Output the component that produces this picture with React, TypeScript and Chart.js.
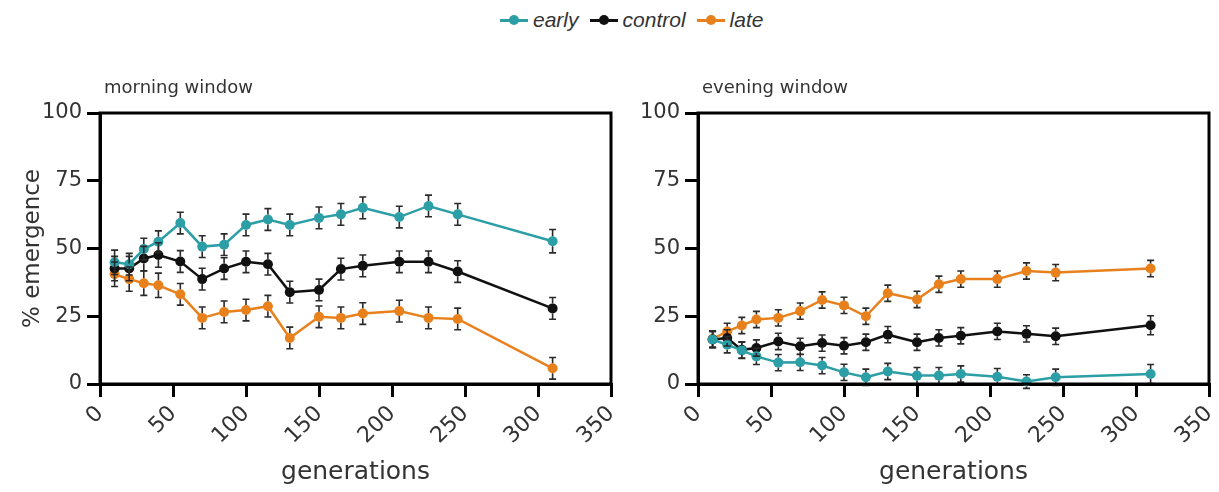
import React, { useEffect, useRef } from 'react';
import { Chart, registerables } from 'chart.js';
Chart.register(...registerables);

const generations = [10, 20, 30, 40, 55, 70, 85, 100, 115, 130, 150, 165, 180, 205, 225, 245, 310];
const xTicks = [0, 50, 100, 150, 200, 250, 300, 350];
const yTicks = [0, 25, 50, 75, 100];

const morningEarly = [44.9, 44.2, 49.8, 52.5, 59.4, 50.7, 51.4, 58.7, 60.7, 58.7, 61.3, 62.6, 65.0, 61.6, 65.7, 62.6, 52.7];
const morningControl = [42.6, 42.6, 46.3, 47.6, 45.2, 38.7, 42.6, 45.1, 44.2, 33.9, 34.7, 42.4, 43.6, 45.1, 45.1, 41.5, 27.9];
const morningLate = [40.5, 38.7, 37.2, 36.4, 33.1, 24.4, 26.6, 27.3, 28.7, 17.0, 24.8, 24.4, 26.0, 26.9, 24.4, 24.0, 5.8];
const morningEarlyErr = [4.5, 4, 4, 4, 4, 4, 4, 4, 4, 4, 4, 4, 4, 4, 4, 4, 4.3];
const morningControlErr = [4.5, 4.5, 4.5, 4.5, 4, 4, 4, 4, 4, 4, 4, 4, 4, 4, 4, 4, 4];
const morningLateErr = [4.5, 4.5, 4.5, 4.5, 4, 4, 4, 4, 4, 4, 4, 4, 4, 4, 4, 4, 4];

const eveningEarly = [16.4, 14.5, 12.4, 10.2, 7.9, 8.0, 6.8, 4.3, 2.5, 4.6, 3.1, 3.1, 3.7, 2.7, 0.9, 2.5, 3.7];
const eveningControl = [16.4, 17.0, 12.6, 13.3, 15.7, 13.9, 15.1, 14.1, 15.4, 18.2, 15.4, 17.0, 17.8, 19.4, 18.5, 17.6, 21.7];
const eveningLate = [16.6, 19.4, 21.6, 23.8, 24.4, 26.9, 31.0, 29.0, 25.0, 33.5, 31.2, 36.8, 38.7, 38.7, 41.7, 41.1, 42.6];
const eveningEarlyErr = [3, 3, 3, 3, 3, 3, 3, 3, 3, 3, 3, 3, 3, 3, 2.5, 3, 3.5];
const eveningControlErr = [3, 3, 3, 3, 3, 3, 3, 3, 3, 3, 3, 3, 3, 3, 3, 3, 3.5];
const eveningLateErr = [3, 3, 3, 3, 3, 3, 3, 3, 3, 3, 3, 3, 3, 3, 3, 3, 3];

const seriesLabels = ['early', 'control', 'late'];
const TEAL = '#2b9ea6';
const BLACK = '#111111';
const ORANGE = '#e8801c';
const seriesColors = [TEAL, BLACK, ORANGE];

const FONT = "'DejaVu Sans', sans-serif";

const errorBarPlugin = {
  id: 'errorBars',
  afterDatasetsDraw(chart: any) {
    const ctx = chart.ctx;
    const ys = chart.scales.y;
    chart.data.datasets.forEach((ds: any, i: number) => {
      const meta = chart.getDatasetMeta(i);
      meta.data.forEach((pt: any, j: number) => {
        const v = ds.data[j].y;
        const e = ds.errors[j];
        const x = pt.x;
        const y1 = ys.getPixelForValue(v + e);
        const y2 = ys.getPixelForValue(v - e);
        const r = 5;
        ctx.save();
        ctx.strokeStyle = '#2a2a2a';
        ctx.lineWidth = 1.6;
        ctx.beginPath();
        ctx.moveTo(x, y1);
        ctx.lineTo(x, pt.y - r);
        ctx.moveTo(x, pt.y + r);
        ctx.lineTo(x, y2);
        ctx.moveTo(x - 3.5, y1);
        ctx.lineTo(x + 3.5, y1);
        ctx.moveTo(x - 3.5, y2);
        ctx.lineTo(x + 3.5, y2);
        ctx.stroke();
        ctx.restore();
      });
    });
  },
};

function makeFramePlugin(title: string) {
  return {
    id: 'frame',
    afterDraw(chart: any) {
      const { ctx, chartArea } = chart;
      ctx.save();
      ctx.strokeStyle = '#000';
      ctx.lineWidth = 3;
      ctx.strokeRect(chartArea.left, chartArea.top, chartArea.right - chartArea.left, chartArea.bottom - chartArea.top);
      ctx.fillStyle = '#333';
      ctx.font = `18px ${FONT}`;
      ctx.textBaseline = 'middle';
      ctx.textAlign = 'left';
      ctx.fillText(title, chartArea.left + 4, 88);
      ctx.restore();
    },
  };
}

function makeConfig(
  title: string,
  values: number[][],
  errors: number[][],
  yAxisWidth: number,
  padRight: number,
  showYTitle: boolean
): any {
  const datasets = values.map((vals, k) => ({
    label: seriesLabels[k],
    data: generations.map((g, i) => ({ x: g, y: vals[i] })),
    errors: errors[k],
    borderColor: seriesColors[k],
    backgroundColor: seriesColors[k],
    pointBackgroundColor: seriesColors[k],
    pointBorderColor: seriesColors[k],
    borderWidth: 2.5,
    pointRadius: 5,
    pointBorderWidth: 0,
    tension: 0,
    clip: false,
  }));
  return {
    type: 'line',
    data: { datasets },
    plugins: [errorBarPlugin, makeFramePlugin(title)],
    options: {
      responsive: false,
      animation: false,
      layout: { padding: { left: 0, right: padRight, top: 113, bottom: 0 } },
      plugins: { legend: { display: false }, tooltip: { enabled: false }, title: { display: false } },
      scales: {
        x: {
          type: 'linear',
          min: 0,
          max: 350,
          afterBuildTicks: (scale: any) => {
            scale.ticks = xTicks.map((v) => ({ value: v }));
          },
          afterFit: (scale: any) => {
            scale.height = 108;
            scale.paddingLeft = 0;
            scale.paddingRight = 0;
          },
          border: { display: true, color: '#000', width: 3 },
          grid: { drawOnChartArea: false, drawTicks: true, tickLength: 13, color: '#000', lineWidth: 3 },
          ticks: {
            autoSkip: false,
            minRotation: 45,
            maxRotation: 45,
            padding: 4,
            color: '#333',
            font: { family: FONT, size: 22 },
          },
          title: {
            display: true,
            text: 'generations',
            color: '#333',
            font: { family: FONT, size: 25 },
            padding: { top: 0, bottom: 5 },
          },
        },
        y: {
          type: 'linear',
          min: 0,
          max: 100,
          afterBuildTicks: (scale: any) => {
            scale.ticks = yTicks.map((v) => ({ value: v }));
          },
          afterFit: (scale: any) => {
            scale.width = yAxisWidth;
          },
          border: { display: true, color: '#000', width: 3 },
          grid: { drawOnChartArea: false, drawTicks: true, tickLength: 13, color: '#000', lineWidth: 3 },
          ticks: { padding: 5, color: '#333', font: { family: FONT, size: 21 } },
          title: {
            display: showYTitle,
            text: '% emergence',
            color: '#333',
            font: { family: FONT, size: 23 },
            padding: { top: 19, bottom: 0 },
          },
        },
      },
    },
  };
}

function Panel(props: { left: number; width: number; config: any }) {
  const ref = useRef<HTMLCanvasElement | null>(null);
  useEffect(() => {
    if (!ref.current) return;
    const chart = new Chart(ref.current, props.config);
    return () => chart.destroy();
  }, []);
  return (
    <canvas
      ref={ref}
      width={props.width}
      height={492}
      style={{ position: 'absolute', left: props.left, top: 0, width: props.width, height: 492 }}
    />
  );
}

function LegendItem(props: { label: string; color: string; last?: boolean }) {
  return (
    <div style={{ display: 'flex', alignItems: 'center', marginRight: props.last ? 0 : 11 }}>
      <div style={{ position: 'relative', width: 28, height: 24, marginRight: 5 }}>
        <div style={{ position: 'absolute', left: 0, top: 11, width: 28, height: 3, background: props.color }} />
        <div
          style={{
            position: 'absolute',
            left: 9,
            top: 7,
            width: 10,
            height: 10,
            borderRadius: '50%',
            background: props.color,
          }}
        />
      </div>
      <span
        style={{
          fontFamily: "'Liberation Sans', Arial, sans-serif",
          fontStyle: 'italic',
          fontSize: 21,
          color: '#333',
          lineHeight: '24px',
        }}
      >
        {props.label}
      </span>
    </div>
  );
}

export default function App() {
  const leftConfig = makeConfig(
    'morning window',
    [morningEarly, morningControl, morningLate],
    [morningEarlyErr, morningControlErr, morningLateErr],
    100,
    29,
    true
  );
  const rightConfig = makeConfig(
    'evening window',
    [eveningEarly, eveningControl, eveningLate],
    [eveningEarlyErr, eveningControlErr, eveningLateErr],
    78,
    10,
    false
  );
  return (
    <div style={{ position: 'fixed', left: 0, top: 0, width: 1219, height: 492, background: '#fff', overflow: 'hidden' }}>
      <div style={{ position: 'absolute', left: 500, top: 8, display: 'flex', alignItems: 'center' }}>
        {seriesLabels.map((l, k) => (
          <LegendItem key={l} label={l} color={seriesColors[k]} last={k === seriesLabels.length - 1} />
        ))}
      </div>
      <Panel left={0} width={640} config={leftConfig} />
      <Panel left={620} width={599} config={rightConfig} />
    </div>
  );
}
